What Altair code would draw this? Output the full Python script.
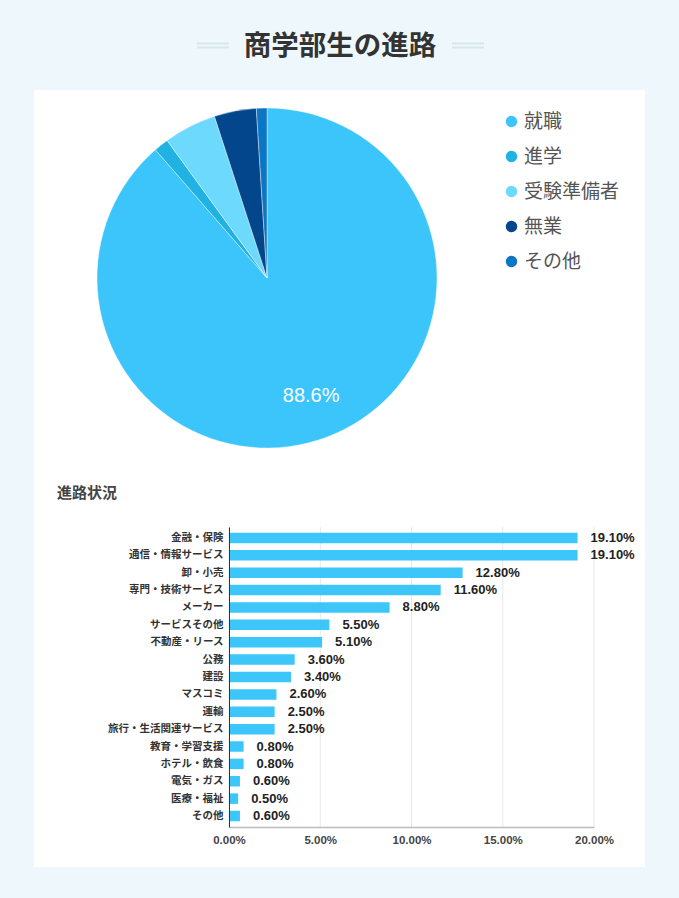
import altair as alt
import pandas as pd

W, H = 679, 898
JP = "Noto Sans CJK JP"
LAT = "Liberation Sans, Noto Sans CJK JP"

# ---- data ----
pie_names = ["就職", "進学", "受験準備者", "無業", "その他"]
pie_values = [88.6, 1.4, 5.0, 4.0, 1.0]
pie_colors = ["#3cc5fa", "#1fb2e3", "#6ddafd", "#04468b", "#0b76c4"]

bar_names = ["金融・保険", "通信・情報サービス", "卸・小売", "専門・技術サービス", "メーカー",
             "サービスその他", "不動産・リース", "公務", "建設", "マスコミ", "運輸",
             "旅行・生活関連サービス", "教育・学習支援", "ホテル・飲食", "電気・ガス",
             "医療・福祉", "その他"]
bar_values = [19.1, 19.1, 12.8, 11.6, 8.8, 5.5, 5.1, 3.6, 3.4, 2.6, 2.5, 2.5,
              0.8, 0.8, 0.6, 0.5, 0.6]
x_ticks = [0, 5, 10, 15, 20]

pie_df = pd.DataFrame({
    "name": pie_names,
    "v": pie_values,
    "ord": list(range(len(pie_names))),
    "lbl": [f"{v}%" if v > 50 else "" for v in pie_values],
})
bar_df = pd.DataFrame({
    "cat": bar_names,
    "pct": bar_values,
    "lbl": [f"{v:.2f}%" for v in bar_values],
})
grid_df = pd.DataFrame({"pct": x_ticks})
one = pd.DataFrame({"a": [0]})

# ---- background panel & titles ----
panel = alt.Chart(one).mark_rect(color="white").encode(
    x=alt.value(34), x2=alt.value(645), y=alt.value(90), y2=alt.value(867))

title = alt.Chart(one).mark_text(
    text="商学部生の進路", font=JP, fontSize=27.5, fontWeight="bold", color="#333",
    align="center", baseline="middle").encode(x=alt.value(340), y=alt.value(47))

deco = []
for (xa, xb) in [(197, 229), (452, 484)]:
    for yy in [43.5, 47.5]:
        deco.append(alt.Chart(one).mark_rule(color="#d6e6ec", strokeWidth=1.8).encode(
            x=alt.value(xa), x2=alt.value(xb), y=alt.value(yy)))

sec_title = alt.Chart(one).mark_text(
    text="進路状況", font=JP, fontSize=15, fontWeight="bold", color="#444",
    align="left", baseline="middle").encode(x=alt.value(57), y=alt.value(493))

# ---- pie ----
pbase = alt.Chart(pie_df).encode(
    theta=alt.Theta("v:Q", stack=True),
    order=alt.Order("ord:Q"),
    x=alt.value(267), y=alt.value(278))

arc = pbase.mark_arc(outerRadius=170, stroke="white", strokeWidth=0.4).encode(
    color=alt.Color("name:N", sort=pie_names,
                    scale=alt.Scale(domain=pie_names, range=pie_colors),
                    legend=alt.Legend(orient="none", legendX=502, legendY=112, title=None,
                                      symbolType="circle", symbolSize=130,
                                      symbolStrokeWidth=0, labelFontSize=19,
                                      labelFont=JP, labelColor="#555",
                                      rowPadding=15, labelOffset=3,
                                      direction="vertical", zindex=2)))

pie_txt = pbase.mark_text(radius=126, font=LAT, fontSize=20, color="white",
                          align="center", baseline="middle").encode(text="lbl:N")

# ---- bars ----
xscale = alt.Scale(domain=[0, 20], range=[229, 594], nice=False, zero=True)
yscale = alt.Scale(domain=bar_names, range=[527, 827], paddingInner=0, paddingOuter=0.133)

ax_x = alt.Axis(values=x_ticks, labelExpr="format(datum.value, '.2f') + '%'",
                offset=-71, domainColor="#bbbbbb", domainWidth=1.5,
                ticks=False, grid=False, labelFont=LAT, labelFontSize=11.5,
                labelFontWeight="bold", labelColor="#444", labelPadding=7,
                labelFlush=False, title=None, zindex=1)
ax_y = alt.Axis(offset=-229, domainColor="#333", domainWidth=1, ticks=False,
                grid=False, labelFont=JP, labelFontSize=10.5,
                labelFontWeight="bold", labelColor="#333", labelPadding=6,
                labelLimit=300, title=None, zindex=1)

X = alt.X("pct:Q", scale=xscale, axis=ax_x)
Y = alt.Y("cat:N", scale=yscale, sort=None, axis=ax_y)

grid = alt.Chart(grid_df).mark_rule(color="#e8e8e8", strokeWidth=1).encode(
    x=X, y=alt.value(527), y2=alt.value(827))

bars = alt.Chart(bar_df).mark_bar(size=10.5, color="#3cc6fa").encode(x=X, y=Y)

vals = alt.Chart(bar_df).mark_text(
    align="left", baseline="middle", dx=13, font=LAT, fontSize=13,
    fontWeight="bold", color="#222").encode(x=X, y=Y, text="lbl:N")

chart = alt.layer(
    panel, title, *deco, sec_title, arc, pie_txt, grid, bars, vals
).properties(
    width=W, height=H, background="#eef7fb", padding=0,
    autosize=alt.AutoSizeParams(type="none")
).configure_view(stroke=None)

chart.save("out.html", embed_options={"renderer": "svg", "actions": False})
